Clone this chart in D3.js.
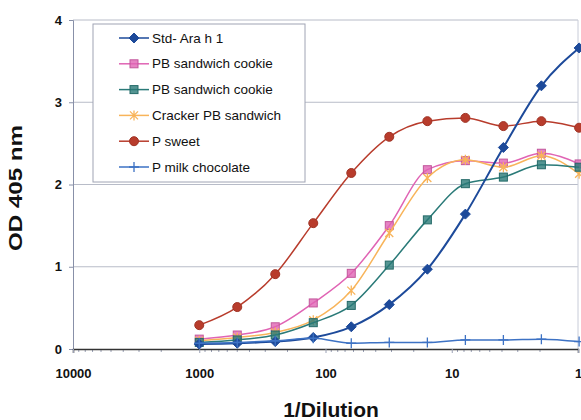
<!DOCTYPE html>
<html>
<head>
<meta charset="utf-8">
<script src="https://cdn.jsdelivr.net/npm/d3@7"></script>
<style>
  body { margin: 0; background: #fff; }
  text { font-family: Arial, "Liberation Sans", sans-serif; }
</style>
</head>
<body>
<div id="chart"></div>
<script>
// dilution steps (1/Dilution), two-fold series
var dilutions = [1000, 500, 250, 125, 62.5, 31.25, 15.6, 7.8, 3.9, 1.95, 0.98];

var seriesNames = ["Std- Ara h 1", "PB sandwich cookie", "PB sandwich cookie",
    "Cracker PB sandwich", "P sweet", "P milk chocolate"];

var stdAra = [0.06, 0.07, 0.09, 0.14, 0.27, 0.54, 0.97, 1.64, 2.45, 3.20, 3.66];
var pbCookie1 = [0.12, 0.17, 0.27, 0.56, 0.92, 1.50, 2.18, 2.29, 2.26, 2.38, 2.25];
var pbCookie2 = [0.08, 0.11, 0.17, 0.32, 0.53, 1.02, 1.57, 2.01, 2.09, 2.24, 2.21];
var crackerPb = [0.10, 0.14, 0.20, 0.35, 0.71, 1.41, 2.08, 2.30, 2.21, 2.35, 2.13];
var pSweet = [0.29, 0.51, 0.91, 1.53, 2.14, 2.58, 2.77, 2.81, 2.71, 2.77, 2.69];
var pMilkChoc = [0.07, 0.08, 0.10, 0.13, 0.07, 0.08, 0.08, 0.11, 0.11, 0.12, 0.09];

var xTicks = [10000, 1000, 100, 10, 1];
var yTicks = [0, 1, 2, 3, 4];

var colors = ["#1d4a9a", "#e064b4", "#2a7a78", "#f8b45a", "#b83c2c", "#3d72c4"];
var shapes = ["diamond", "square", "square", "cross", "circle", "plus"];

var margin = { top: 20, right: 3, bottom: 71, left: 73 },
    width = 581 - margin.left - margin.right,
    height = 420 - margin.top - margin.bottom;

var svg = d3.select("#chart")
    .append("svg")
    .attr("width", 581)
    .attr("height", 420)
    .append("g")
    .attr("transform", "translate(" + margin.left + "," + margin.top + ")");

var x = d3.scaleLog()
    .domain([10000, 1])
    .range([0, 505]);

var y = d3.scaleLinear()
    .domain([0, 4])
    .range([329, 0]);

// gridlines
svg.append("g")
    .selectAll("line")
    .data(yTicks.slice(1))
    .enter()
    .append("line")
    .attr("x1", 0)
    .attr("x2", 505)
    .attr("y1", function (d) { return y(d); })
    .attr("y2", function (d) { return y(d); })
    .attr("stroke", "#b8bcc8")
    .attr("stroke-width", 1);

// right edge
svg.append("line")
    .attr("x1", 505).attr("x2", 505)
    .attr("y1", 0).attr("y2", 329)
    .attr("stroke", "#c8ccd8");

// y axis
var yAxis = svg.append("g")
    .call(d3.axisLeft(y).tickValues(yTicks).tickSize(4).tickFormat(d3.format("d")));
yAxis.select(".domain").attr("stroke", "#8890a8");
yAxis.selectAll(".tick line").attr("stroke", "#8890a8");
yAxis.selectAll("text")
    .attr("font-size", 13)
    .attr("font-weight", "bold")
    .attr("fill", "#111")
    .attr("x", -11);

// x axis with minor ticks
var minor = [];
for (var e = 0; e < 4; e++) {
    for (var m = 2; m < 10; m++) minor.push(m * Math.pow(10, e));
}
svg.append("g")
    .attr("transform", "translate(0,329)")
    .selectAll("line")
    .data(minor)
    .enter()
    .append("line")
    .attr("x1", function (d) { return x(d); })
    .attr("x2", function (d) { return x(d); })
    .attr("y1", 0)
    .attr("y2", 3)
    .attr("stroke", "#9aa0b4");

var xAxis = svg.append("g")
    .attr("transform", "translate(0,329)")
    .call(d3.axisBottom(x).tickValues(xTicks).tickSize(4).tickFormat(d3.format("d")));
xAxis.select(".domain").attr("stroke", "#333").attr("stroke-width", 1.5);
xAxis.selectAll(".tick line").attr("stroke", "#9aa0b4");
xAxis.selectAll("text")
    .attr("font-size", 13)
    .attr("font-weight", "bold")
    .attr("fill", "#111")
    .attr("y", 20);

// axis titles
svg.append("text")
    .attr("x", 258)
    .attr("y", 397)
    .attr("text-anchor", "middle")
    .attr("font-size", 21)
    .attr("font-weight", "bold")
    .attr("fill", "#111")
    .text("1/Dilution");

svg.append("text")
    .attr("transform", "translate(-51,168) rotate(-90)")
    .attr("text-anchor", "middle")
    .attr("font-size", 19)
    .attr("font-weight", "bold")
    .attr("fill", "#111")
    .attr("textLength", 126)
    .attr("lengthAdjust", "spacingAndGlyphs")
    .text("OD 405 nm");

// series
var allSeries = [stdAra, pbCookie1, pbCookie2, crackerPb, pSweet, pMilkChoc];
var line = d3.line()
    .x(function (d, i) { return x(dilutions[i]); })
    .y(function (d) { return y(d); })
    .curve(d3.curveMonotoneX);

function drawMarker(g, shape, color, cx, cy) {
    if (shape === "diamond") {
        g.append("path")
            .attr("d", "M0,-5L5,0L0,5L-5,0Z")
            .attr("transform", "translate(" + cx + "," + cy + ")")
            .attr("fill", color).attr("stroke", color);
    } else if (shape === "square") {
        g.append("rect")
            .attr("x", cx - 4).attr("y", cy - 4)
            .attr("width", 8).attr("height", 8)
            .attr("fill", color).attr("fill-opacity", 0.8)
            .attr("stroke", d3.color(color).darker(0.4)).attr("stroke-width", 1);
    } else if (shape === "circle") {
        g.append("circle")
            .attr("cx", cx).attr("cy", cy).attr("r", 4.5)
            .attr("fill", color).attr("stroke", d3.color(color).darker(0.4));
    } else if (shape === "cross") {
        g.append("path")
            .attr("d", "M-4,-4L4,4M-4,4L4,-4M0,-5V5")
            .attr("transform", "translate(" + cx + "," + cy + ")")
            .attr("stroke", color).attr("stroke-width", 1.3).attr("fill", "none");
    } else if (shape === "plus") {
        g.append("path")
            .attr("d", "M0,-5V5M-5,0H5")
            .attr("transform", "translate(" + cx + "," + cy + ")")
            .attr("stroke", color).attr("stroke-width", 1.3).attr("fill", "none");
    }
}

// draw back to front
var order = [4, 1, 3, 2, 0, 5];
order.forEach(function (k) {
    var g = svg.append("g");
    g.append("path")
        .datum(allSeries[k])
        .attr("d", line)
        .attr("fill", "none")
        .attr("stroke", colors[k])
        .attr("stroke-width", k === 0 ? 2 : 1.5);
    allSeries[k].forEach(function (v, i) {
        drawMarker(g, shapes[k], colors[k], x(dilutions[i]), y(v));
    });
});

// legend
var legend = svg.append("g")
    .attr("transform", "translate(20,4)");
legend.append("rect")
    .attr("x", 0).attr("y", 0)
    .attr("width", 212).attr("height", 158)
    .attr("fill", "#fff")
    .attr("stroke", "#a0a4b4")
    .attr("stroke-width", 1);

seriesNames.forEach(function (name, k) {
    var ly = 14 + k * 25.8;
    legend.append("line")
        .attr("x1", 26).attr("x2", 56)
        .attr("y1", ly).attr("y2", ly)
        .attr("stroke", colors[k]).attr("stroke-width", 1.5);
    drawMarker(legend, shapes[k], colors[k], 41, ly);
    legend.append("text")
        .attr("x", 59)
        .attr("y", ly + 4.5)
        .attr("font-size", 13.5)
        .attr("fill", "#111")
        .text(name);
});
</script>
</body>
</html>
